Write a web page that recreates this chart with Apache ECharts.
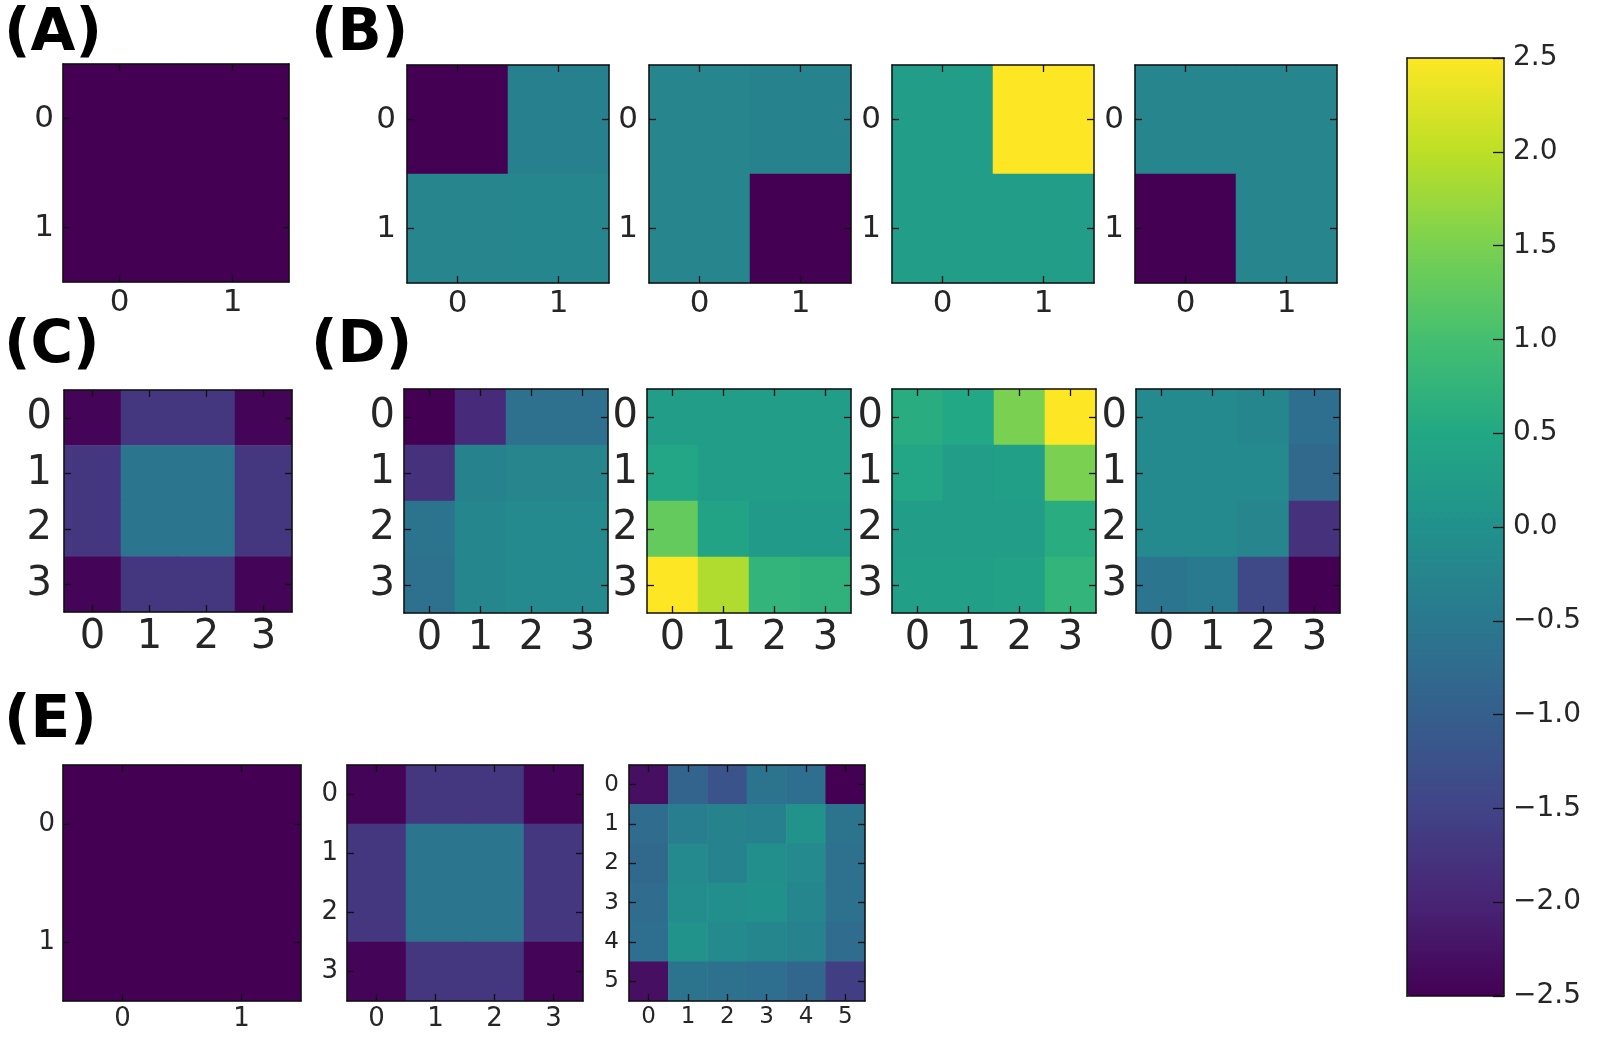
<!doctype html>
<html>
<head>
<meta charset="UTF-8">
<script src="https://cdn.jsdelivr.net/npm/echarts@6/dist/echarts.min.js"></script>
<style>
  html, body { margin: 0; padding: 0; background: #fff; }
  #main { width: 1603px; height: 1047px; }
</style>
</head>
<body>
<div id="main"></div>
<script type="text/javascript">
    // tick labels
    var ticks2 = ['0', '1'];
    var ticks4 = ['0', '1', '2', '3'];
    var ticks6 = ['0', '1', '2', '3', '4', '5'];
    var cbMin = -2.5, cbMax = 2.5, cbStep = 0.5;

    // values, rows top -> bottom
    var gridA = [[-2.5, -2.5], [-2.5, -2.5]];
    var gridB1 = [[-2.5, -0.35], [-0.25, -0.2]];
    var gridB2 = [[-0.25, -0.3], [-0.25, -2.5]];
    var gridB3 = [[0.25, 2.5], [0.25, 0.25]];
    var gridB4 = [[-0.25, -0.25], [-2.5, -0.25]];
    var gridC = [
        [-2.45, -1.7, -1.7, -2.45],
        [-1.7, -0.55, -0.55, -1.7],
        [-1.7, -0.55, -0.55, -1.7],
        [-2.45, -1.7, -1.7, -2.45]
    ];
    var gridD1 = [
        [-2.5, -1.9, -0.65, -0.65],
        [-1.8, -0.3, -0.25, -0.25],
        [-0.6, -0.2, -0.15, -0.15],
        [-0.65, -0.2, -0.15, -0.15]
    ];
    var gridD2 = [
        [0.25, 0.25, 0.25, 0.25],
        [0.45, 0.25, 0.25, 0.25],
        [1.3, 0.4, 0.2, 0.2],
        [2.5, 1.9, 0.75, 0.7]
    ];
    var gridD3 = [
        [0.6, 0.5, 1.5, 2.5],
        [0.45, 0.25, 0.3, 1.5],
        [0.25, 0.25, 0.25, 0.6],
        [0.3, 0.3, 0.35, 0.75]
    ];
    var gridD4 = [
        [-0.15, -0.15, -0.2, -0.7],
        [-0.15, -0.15, -0.15, -0.8],
        [-0.15, -0.15, -0.25, -1.8],
        [-0.55, -0.45, -1.4, -2.5]
    ];
    var gridE1 = [[-2.5, -2.5], [-2.5, -2.5]];
    var gridE2 = [
        [-2.45, -1.7, -1.7, -2.45],
        [-1.7, -0.55, -0.55, -1.7],
        [-1.7, -0.55, -0.55, -1.7],
        [-2.45, -1.7, -1.7, -2.45]
    ];
    var gridE3 = [
        [-2.3, -0.9, -1.2, -0.6, -0.7, -2.5],
        [-0.75, -0.4, -0.3, -0.35, 0.05, -0.6],
        [-0.8, -0.15, -0.3, -0.05, -0.15, -0.65],
        [-0.75, -0.1, -0.05, 0, -0.2, -0.65],
        [-0.7, 0.05, -0.15, -0.2, -0.3, -0.75],
        [-2.3, -0.6, -0.65, -0.7, -0.85, -1.6]
    ];

    var viridis = ['#440154', '#482475', '#414487', '#355f8d', '#2a788e', '#21918c',
                   '#22a884', '#44bf70', '#7ad151', '#bddf26', '#fde725'];

    var FONT = 'DejaVu Sans';
    var INK = '#262626';

    // box = [left, top, right, bottom]
    var panels = [
        {data: gridA,  labels: ticks2, box: [63, 64, 289, 282],   font: 31, xm: 5, ym: 9},
        {data: gridB1, labels: ticks2, box: [407, 65, 609, 283],  font: 31, xm: 5, ym: 11},
        {data: gridB2, labels: ticks2, box: [649, 65, 851, 283],  font: 31, xm: 5, ym: 11},
        {data: gridB3, labels: ticks2, box: [892, 65, 1094, 283], font: 31, xm: 5, ym: 11},
        {data: gridB4, labels: ticks2, box: [1135, 65, 1337, 283], font: 31, xm: 5, ym: 11},
        {data: gridC,  labels: ticks4, box: [64, 390, 292, 612],  font: 40, xm: 6, ym: 12},
        {data: gridD1, labels: ticks4, box: [404, 389, 608, 613], font: 40, xm: 6, ym: 9},
        {data: gridD2, labels: ticks4, box: [647, 389, 851, 613], font: 40, xm: 6, ym: 9},
        {data: gridD3, labels: ticks4, box: [892, 389, 1096, 613], font: 40, xm: 6, ym: 9},
        {data: gridD4, labels: ticks4, box: [1136, 389, 1340, 613], font: 40, xm: 6, ym: 9},
        {data: gridE1, labels: ticks2, box: [63, 765, 301, 1001],  font: 26, xm: 5, ym: 8},
        {data: gridE2, labels: ticks4, box: [347, 765, 583, 1001], font: 26, xm: 5, ym: 9},
        {data: gridE3, labels: ticks6, box: [629, 765, 865, 1001], font: 23, xm: 5, ym: 10}
    ];

    var letters = [
        {text: '(A)', x: 4, y: 64},
        {text: '(B)', x: 311, y: 64},
        {text: '(C)', x: 4, y: 376},
        {text: '(D)', x: 311, y: 376},
        {text: '(E)', x: 4, y: 751}
    ];

    var grids = [], xAxes = [], yAxes = [], series = [];

    function frameAxis(extra) {
        var a = {
            z: 10,
            axisLine: {show: true, onZero: false, lineStyle: {color: '#111', width: 1.5}},
            axisTick: {show: false},
            axisLabel: {show: false},
            splitLine: {show: false}
        };
        for (var k in extra) a[k] = extra[k];
        return a;
    }

    panels.forEach(function (p, i) {
        grids.push({
            left: p.box[0], top: p.box[1],
            width: p.box[2] - p.box[0], height: p.box[3] - p.box[1],
            containLabel: false
        });
        var tick = {show: true, inside: true, alignWithLabel: true, length: 7,
                    lineStyle: {color: '#111', width: 1.3}};
        var label = {show: true, fontFamily: FONT, fontSize: p.font, color: INK};
        // bottom / left axes carry labels, top / right only mirror ticks
        xAxes.push(frameAxis({type: 'category', gridIndex: i, position: 'bottom', data: p.labels,
            axisTick: tick, axisLabel: Object.assign({margin: p.xm}, label)}));
        xAxes.push(frameAxis({type: 'category', gridIndex: i, position: 'top', data: p.labels,
            axisTick: tick}));
        yAxes.push(frameAxis({type: 'category', gridIndex: i, position: 'left', inverse: true, data: p.labels,
            axisTick: tick, axisLabel: Object.assign({margin: p.ym}, label)}));
        yAxes.push(frameAxis({type: 'category', gridIndex: i, position: 'right', inverse: true, data: p.labels,
            axisTick: tick}));

        var pts = [];
        p.data.forEach(function (row, r) {
            row.forEach(function (v, c) { pts.push([c, r, v]); });
        });
        series.push({
            type: 'heatmap',
            xAxisIndex: 2 * i,
            yAxisIndex: 2 * i,
            data: pts,
            itemStyle: {borderWidth: 0},
            emphasis: {disabled: true}
        });
    });

    // colorbar frame + ticks
    var cb = {left: 1407, top: 58, width: 97, height: 938};
    var cbGrid = grids.length;
    grids.push({left: cb.left, top: cb.top, width: cb.width, height: cb.height});
    xAxes.push(frameAxis({type: 'value', gridIndex: cbGrid, position: 'bottom', min: 0, max: 1}));
    xAxes.push(frameAxis({type: 'value', gridIndex: cbGrid, position: 'top', min: 0, max: 1}));
    yAxes.push(frameAxis({type: 'value', gridIndex: cbGrid, position: 'left', min: cbMin, max: cbMax, interval: cbStep}));
    yAxes.push(frameAxis({
        type: 'value', gridIndex: cbGrid, position: 'right', min: cbMin, max: cbMax, interval: cbStep,
        axisTick: {show: true, inside: true, length: 11, lineStyle: {color: '#111', width: 1.3}},
        axisLabel: {
            show: true, margin: 9, fontFamily: FONT, fontSize: 28, color: INK,
            formatter: function (v) { return v.toFixed(1).replace('-', '\u2212'); }
        }
    }));

    var myChart = echarts.init(document.getElementById('main'), null, {renderer: 'canvas'});
    var option = {
        backgroundColor: '#fff',
        animation: false,
        grid: grids,
        xAxis: xAxes,
        yAxis: yAxes,
        visualMap: {
            type: 'continuous',
            min: cbMin, max: cbMax,
            calculable: false,
            seriesIndex: series.map(function (s, i) { return i; }),
            inRange: {color: viridis},
            orient: 'vertical',
            left: cb.left, top: cb.top,
            itemWidth: cb.width, itemHeight: cb.height,
            padding: 0,
            text: ['', ''],
            showLabel: false,
            hoverLink: false,
            z: 3
        },
        graphic: letters.map(function (l) {
            return {
                type: 'text', left: l.x, top: l.y - 58, z: 20,
                style: {text: l.text, font: 'bold 58px "DejaVu Sans"', fill: '#000'}
            };
        }),
        series: series
    };
    myChart.setOption(option);
</script>
</body>
</html>
